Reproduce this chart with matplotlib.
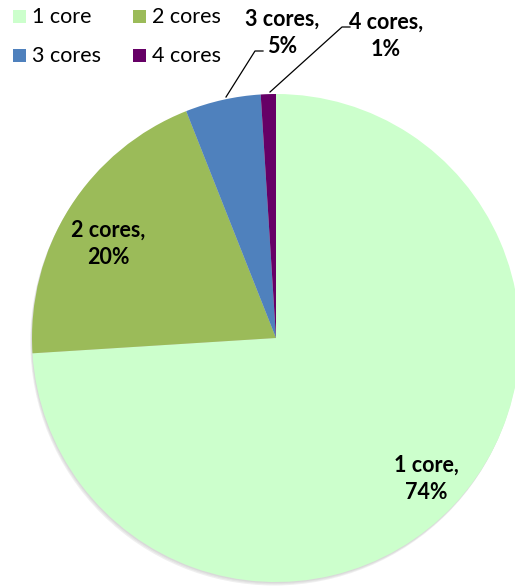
import matplotlib
matplotlib.use("Agg")
import matplotlib.pyplot as plt
from matplotlib.patches import Rectangle, Circle

categories = ["1 core", "2 cores", "3 cores", "4 cores"]
values = [74, 20, 5, 1]
colors = ["#CCFFCC", "#9BBB59", "#4F81BD", "#660066"]

W, H = 515, 588
fig = plt.figure(figsize=(W / 100, H / 100), dpi=100)
fig.patch.set_facecolor("white")

cx, cy, r = 276, 338, 244
ax = fig.add_axes([(cx - r) / W, (H - cy - r) / H, 2 * r / W, 2 * r / H])

# soft shadow
for i, a in enumerate([0.10, 0.10, 0.12]):
    off = 0.004 * (i + 1)
    ax.add_patch(Circle((-off * 0.6, -off * 1.2), 1.0, color="#808080", alpha=a,
                        zorder=0, lw=0, clip_on=False))

wedges, _ = ax.pie(values, colors=colors, startangle=90, counterclock=False,
                   radius=1.0, wedgeprops=dict(linewidth=0))
for w in wedges:
    w.set_zorder(2)
    w.set_clip_on(False)
ax.set_xlim(-1, 1)
ax.set_ylim(-1, 1)
ax.set_aspect("equal")
ax.axis("off")


def px(x, y):
    return ((x - cx) / r, (cy - y) / r)

font = "Lato"
fs = 15.5
lab = [f"{c},\n{v}%" for c, v in zip(categories, values)]
# label positions (pixel centers)
pos = [(426, 479), (108, 244), (282, 33), (386, 36)]
for t, (x, y) in zip(lab, pos):
    ax.text(*px(x, y), t, ha="center", va="center", fontsize=fs, fontweight="bold",
            family=font, linespacing=1.38, zorder=5, clip_on=False)

# leader lines
for pts in [[(226, 97), (255, 51), (263, 51)], [(270, 92), (342, 27), (350, 27)]]:
    xs, ys = zip(*[px(*p) for p in pts])
    ax.plot(xs, ys, color="black", lw=0.9, zorder=4, clip_on=False)

# legend
leg_pos = [(13, 10), (133, 10), (13, 49), (133, 49)]
for c, col, (x, y) in zip(categories, colors, leg_pos):
    fig.add_artist(Rectangle((x / W, 1 - (y + 13) / H), 13 / W, 13 / H,
                             transform=fig.transFigure, color=col, lw=0))
    fig.text((x + 19) / W, 1 - (y + 7) / H, c, ha="left", va="center",
             fontsize=fs, family=font)

fig.savefig("out.png", dpi=100)
